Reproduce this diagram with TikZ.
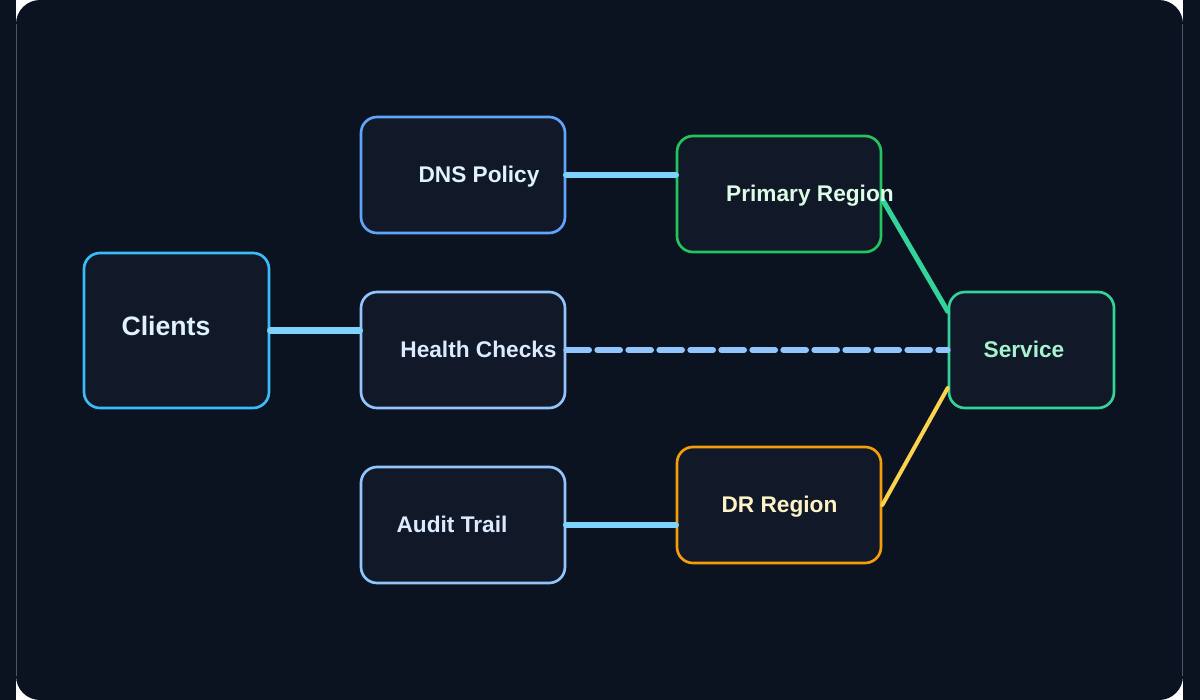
\documentclass[tikz,border=0pt]{standalone}
\usepackage{fontspec}
\newfontfamily\lsans{Liberation Sans}
\definecolor{bgdark}{HTML}{0B1220}
\definecolor{boxfill}{HTML}{111827}
\definecolor{seam}{HTML}{4B5563}
\definecolor{cSky}{HTML}{38BDF8}
\definecolor{cBlue}{HTML}{60A5FA}
\definecolor{cBlueL}{HTML}{93C5FD}
\definecolor{cGreen}{HTML}{22C55E}
\definecolor{cEmer}{HTML}{34D399}
\definecolor{cAmber}{HTML}{F59E0B}
\definecolor{cYellow}{HTML}{FCD34D}
\definecolor{lineSky}{HTML}{7DD3FC}
\definecolor{tSky}{HTML}{E0F2FE}
\definecolor{tBlue}{HTML}{DBEAFE}
\definecolor{tGreen}{HTML}{DCFCE7}
\definecolor{tEmer}{HTML}{A7F3D0}
\definecolor{tAmber}{HTML}{FEF3C7}
\tikzset{
  x=0.75pt, y=-0.75pt,
  box/.style={draw, fill=boxfill, line width=2pt, rounded corners=12pt,
    inner sep=0pt, minimum width=153pt, minimum height=87pt},
  lbl/.style={font=\lsans\bfseries\fontsize{17pt}{19pt}\selectfont, anchor=base, inner sep=0pt},
  bigl/.style={font=\lsans\bfseries\fontsize{20pt}{23pt}\selectfont, anchor=base, inner sep=0pt},
  solidedge/.style={line width=5pt, line cap=round, draw=lineSky},
}
\begin{document}
\begin{tikzpicture}
\useasboundingbox (0,0) rectangle (1200,700);
\fill[bgdark] (0,0) rectangle (1200,700);
\fill[white] (16,0) rectangle (1183,700);
\fill[bgdark, rounded corners=18pt] (16,0) rectangle (1183,700);
\draw[seam, line width=0.75pt] (16.5,24) -- (16.5,676);
\draw[seam, line width=0.75pt] (1182.5,24) -- (1182.5,676);

% boxes
\node[box, draw=cSky, minimum width=138.75pt, minimum height=116.25pt] (clients) at (176.5,330.5) {};
\node[box, draw=cBlue] (dns) at (463,175) {};
\node[box, draw=cBlueL] (health) at (463,350) {};
\node[box, draw=cBlueL] (audit) at (463,525) {};
\node[box, draw=cGreen] (primary) at (779,194) {};
\node[box, draw=cAmber] (dr) at (779,505) {};
\node[box, draw=cEmer, minimum width=123.75pt] (service) at (1031.5,350) {};

% connectors
\draw[solidedge] (clients.east) -- (clients.east -| health.west);
\draw[solidedge] (dns.east) -- (dns.east -| primary.west);
\draw[solidedge] (audit.east) -- (audit.east -| dr.west);
\draw[draw=cBlueL, line width=4.5pt, line cap=round, dash pattern=on 17pt off 6.25pt]
  (health.east) -- (service.west);
\draw[draw=cEmer, line width=3.75pt, line cap=round]
  ([yshift=-4pt]primary.east) -- ([yshift=29pt]service.west);
\draw[draw=cYellow, line width=3pt, line cap=round]
  (dr.east) -- ([yshift=-28.5pt]service.west);

% texts
\node[bigl, text=tSky] (clientsT) at (166,335.5) {Clients};
\node[lbl, text=tSky] (dnsT) at (479,182.5) {DNS Policy};
\node[lbl, text=tBlue] (healthT) at (478.5,357.5) {Health Checks};
\node[lbl, text=tBlue] (auditT) at (452,532.5) {Audit Trail};
\node[lbl, text=tGreen] (primaryT) at (810,201.5) {Primary Region};
\node[lbl, text=tAmber] (drT) at (779.5,512.5) {DR Region};
\node[lbl, text=tEmer] (serviceT) at (1024,357.5) {Service};
\end{tikzpicture}
\end{document}
